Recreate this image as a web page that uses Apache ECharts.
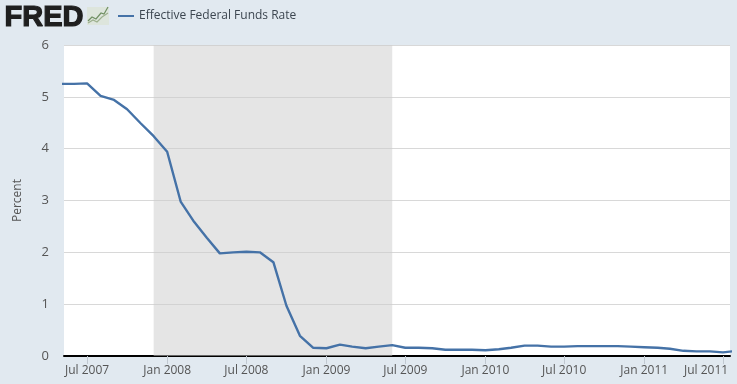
<!DOCTYPE html>
<html><head><meta charset="utf-8">
<style>html,body{margin:0;padding:0;background:#e1e9f0}#c{width:737px;height:384px}</style>
<script src="https://cdn.jsdelivr.net/npm/echarts@6/dist/echarts.min.js"></script>
</head><body><div id="c"></div>
<script>
const dates = ["2007-05-01","2007-06-01","2007-07-01","2007-08-01","2007-09-01","2007-10-01","2007-11-01","2007-12-01",
"2008-01-01","2008-02-01","2008-03-01","2008-04-01","2008-05-01","2008-06-01","2008-07-01","2008-08-01","2008-09-01","2008-10-01","2008-11-01","2008-12-01",
"2009-01-01","2009-02-01","2009-03-01","2009-04-01","2009-05-01","2009-06-01","2009-07-01","2009-08-01","2009-09-01","2009-10-01","2009-11-01","2009-12-01",
"2010-01-01","2010-02-01","2010-03-01","2010-04-01","2010-05-01","2010-06-01","2010-07-01","2010-08-01","2010-09-01","2010-10-01","2010-11-01","2010-12-01",
"2011-01-01","2011-02-01","2011-03-01","2011-04-01","2011-05-01","2011-06-01","2011-07-01","2011-08-01"];
const rates = [5.25,5.25,5.26,5.02,4.94,4.76,4.49,4.24,
3.94,2.98,2.61,2.28,1.98,2.00,2.01,2.00,1.81,0.97,0.39,0.16,
0.15,0.22,0.18,0.15,0.18,0.21,0.16,0.16,0.15,0.12,0.12,0.12,
0.11,0.13,0.16,0.20,0.20,0.18,0.18,0.19,0.19,0.19,0.19,0.18,
0.17,0.16,0.14,0.10,0.09,0.09,0.07,0.10];
const tickDates = ["2007-07-01","2008-01-01","2008-07-01","2009-01-01","2009-07-01","2010-01-01","2010-07-01","2011-01-01","2011-07-01"];
const tickLabels = ["Jul 2007","Jan 2008","Jul 2008","Jan 2009","Jul 2009","Jan 2010","Jul 2010","Jan 2011","Jul 2011"];
const recession = ["2007-12-01","2009-06-01"];
const seriesName = "Effective Federal Funds Rate";
const ms = s => Date.parse(s + "T00:00:00Z");
const tickMs = tickDates.map(ms);
const font = '"Open Sans"';
const labelColor = '#555';
const chart = echarts.init(document.getElementById('c'), null, {renderer:'canvas'});
chart.setOption({
  animation:false,
  backgroundColor:'#e1e9f0',
  grid:{left:64,right:7,top:45,bottom:28,outerBoundsMode:'none',backgroundColor:'#fff',show:true,borderWidth:0},
  legend:{show:true,left:113,top:5,itemWidth:16,itemHeight:2,itemGap:6,icon:'rect',
    data:[seriesName],
    textStyle:{fontFamily:font,fontSize:12,color:'#3c4650'}},
  xAxis:{type:'value',min:ms("2007-05-09"),max:ms("2011-07-17"),
    splitLine:{show:false},
    axisLine:{show:true,lineStyle:{color:'#000',width:2}},
    axisTick:{show:true,length:8,customValues:tickMs,lineStyle:{color:'#c0c8d0',width:1}},
    axisLabel:{show:true,customValues:tickMs,hideOverlap:false,showMinLabel:true,showMaxLabel:true,margin:9,
      fontFamily:font,fontSize:12,color:labelColor,
      rich:{last:{fontFamily:font,fontSize:12,color:labelColor,padding:[0,34,0,0]}},
      formatter:v=>{const i=tickMs.indexOf(v);const t=tickLabels[i]??'';return i===tickMs.length-1?`{last|${t}}`:t;}}},
  yAxis:{type:'value',min:0,max:6,interval:1,
    name:'Percent',nameLocation:'middle',nameGap:40,nameRotate:90,
    nameTextStyle:{fontFamily:font,fontSize:12,color:labelColor},
    axisLine:{show:false},axisTick:{show:false},
    splitLine:{show:true,lineStyle:{color:'#d8d8d8',width:1}},
    axisLabel:{margin:15,fontFamily:font,fontSize:13,color:labelColor}},
  series:[{
    name:seriesName,type:'line',showSymbol:false,symbol:'none',clip:true,z:5,
    lineStyle:{color:'#4572a7',width:2.4},itemStyle:{color:'#4572a7'},
    data:dates.map((d,i)=>[ms(d),rates[i]]),
    markArea:{silent:true,z:1,itemStyle:{color:'rgba(204,204,204,0.5)'},label:{show:false},
      data:[[{xAxis:ms(recession[0])},{xAxis:ms(recession[1])}]]}
  }],
  graphic:[
    {type:'text',left:4,top:3,style:{text:'FRED',fontFamily:'"Liberation Sans"',fontWeight:900,fontSize:29,fill:'#1f1f1f',stroke:'#1f1f1f',lineWidth:1.2}},
    {type:'rect',shape:{x:87,y:7,width:22,height:18},style:{fill:'#dde5dc'}},
    {type:'polyline',shape:{points:[[88,21],[92,17],[96,19],[101,13],[104,14],[108,7]]},style:{stroke:'#6f8f62',fill:null,lineWidth:1.2}},
    {type:'polyline',shape:{points:[[88,23],[93,20],[97,22],[102,17],[108,13]]},style:{stroke:'#9db08e',fill:null,lineWidth:1.2}}
  ]
});
</script></body></html>
